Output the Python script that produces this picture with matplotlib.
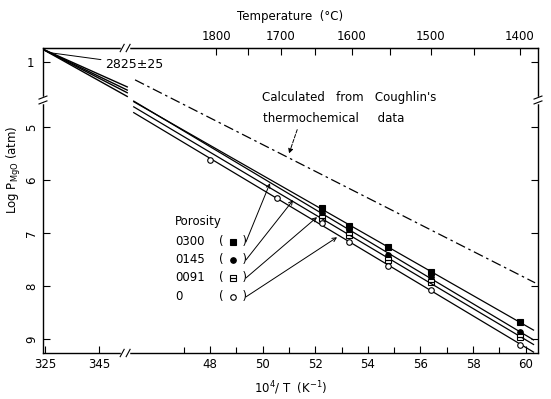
import numpy as np
import matplotlib.pyplot as plt

plt.rcParams['font.family'] = ['DejaVu Sans']
plt.rcParams['font.size'] = 8.5

# measurement columns, 10^4/T (K^-1)
inv_T = [5.226, 5.33, 5.478, 5.639, 5.98]
# log P_MgO, one list per porosity
logp_300 = [6.53, 6.87, 7.26, 7.74, 8.68]
logp_145 = [6.62, 6.94, 7.42, 7.83, 8.87]
logp_091 = [6.72, 7.04, 7.51, 7.92, 8.96]
logp_0 = [6.81, 7.17, 7.62, 8.08, 9.11]
# two extra points for zero porosity at higher temperature
inv_T_0_extra = [4.80, 5.055]
logp_0_extra = [5.62, 6.34]

porosity_labels = ["0300", "0145", "0091", "0"]
fit_x = [4.51, 6.03]

# near the melting point (upper left part of the broken axes)
melt_x = [3.235, 3.555]
melt_y = [[0.74, 1.47], [0.74, 1.53], [0.74, 1.58], [0.74, 1.65]]

# Coughlin's thermochemical data line
calc_x = [4.515, 6.036]
calc_y = [4.11, 7.94]

temp_ticks = [1800, 1700, 1600, 1500, 1400]
temp_minor = [1750, 1650, 1550, 1450]
x_hi_ticks = [3.25, 3.45]
x_hi_labels = ["325", "345"]
x_lo_ticks = [4.8, 5.0, 5.2, 5.4, 5.6, 5.8, 6.0]
x_lo_labels = ["48", "50", "52", "54", "56", "58", "60"]
y_lo_ticks = [5, 6, 7, 8, 9]

fig = plt.figure(figsize=(5.51, 3.99), dpi=100, facecolor="white")
rect = [0.078, 0.1153, 0.8984, 0.7644]
ax = fig.add_axes(rect)
ax_hi = fig.add_axes(rect, frameon=False)
ax_hi.patch.set_alpha(0)

ax.set_xlim(4.165, 6.047)
ax.set_ylim(9.264, 3.509)
ax_hi.set_xlim(3.243, 5.076)
ax_hi.set_ylim(6.49, 0.736)

# porosity series
series = [
    (inv_T, logp_300, dict(marker="s", mfc="black", mec="black")),
    (inv_T, logp_145, dict(marker="o", mfc="black", mec="black")),
    (inv_T, logp_091, dict(marker="s", mfc="white", mec="black", fillstyle="top")),
    (inv_T_0_extra + inv_T, logp_0_extra + logp_0, dict(marker="o", mfc="white", mec="black")),
]
xs = np.array(fit_x)
for x, y, style in series:
    k, b = np.polyfit(x, y, 1)
    ax.plot(xs, k * xs + b, color="black", lw=0.9)
    ax.plot(x, y, ls="none", ms=4, mew=0.8, **style)

ax.plot(calc_x, calc_y, color="black", lw=0.9, ls=(0, (8, 3, 2, 3)))

for ys in melt_y:
    ax_hi.plot(melt_x, ys, color="black", lw=1.0)

ax_hi.annotate("2825±25", xy=(3.262, 0.82), xytext=(3.473, 1.04),
               va="center", ha="left", fontsize=9,
               arrowprops=dict(arrowstyle="-", lw=0.7, color="black", shrinkA=1, shrinkB=0))

# ticks
ax.set_xticks(x_lo_ticks, x_lo_labels)
ax.set_xticks(np.arange(4.7, 6.01, 0.1), minor=True)
ax.set_yticks(y_lo_ticks, [str(v) for v in y_lo_ticks])
ax.tick_params(axis="both", which="both", direction="in", right=True, length=5, width=0.8)
ax.tick_params(axis="x", which="minor", length=4)
for lab in ax.get_yticklabels():
    lab.set_rotation(90)
    lab.set_va("center")

ax_hi.set_xticks(x_hi_ticks, x_hi_labels)
ax_hi.set_yticks([1], ["1"])
ax_hi.tick_params(axis="both", direction="in", right=True, length=5, width=0.8)
ax_hi.tick_params(axis="y", pad=6)

sec = ax.secondary_xaxis("top", functions=(lambda x: 1e4 / x - 273.15,
                                           lambda t: 1e4 / (t + 273.15)))
sec.set_xticks(temp_ticks)
sec.set_xticks(temp_minor, minor=True)
sec.tick_params(axis="x", which="both", direction="in", length=5, width=0.8)
sec.set_xlabel("Temperature  (°C)", labelpad=7)

for s in ax.spines.values():
    s.set_linewidth(1.0)

# break marks on the spines
bx, by = 0.166, 0.8295
for yy in (0, 1):
    ax.plot([bx - 0.006, bx + 0.006], [yy, yy], color="white", lw=2.5,
            transform=ax.transAxes, clip_on=False, zorder=5)
    for dx in (-0.006, 0.006):
        ax.plot([bx + dx - 0.004, bx + dx + 0.004], [yy - 0.012, yy + 0.012],
                color="black", lw=0.8, transform=ax.transAxes, clip_on=False, zorder=6)
for xx in (0, 1):
    ax.plot([xx, xx], [by - 0.008, by + 0.008], color="white", lw=2.5,
            transform=ax.transAxes, clip_on=False, zorder=5)
    for dy in (-0.008, 0.008):
        ax.plot([xx - 0.008, xx + 0.008], [by + dy - 0.005, by + dy + 0.005],
                color="black", lw=0.8, transform=ax.transAxes, clip_on=False, zorder=6)

# labels
ax.set_ylabel("Log P$_{\\mathrm{MgO}}$ (atm)")
ax.yaxis.set_label_coords(-0.04, 0.6)
ax.set_xlabel("10$^{4}$/ T  (K$^{-1}$)")
ax.xaxis.set_label_coords(0.5, -0.085)

ax.text(0.442, 0.839, "Calculated   from   Coughlin's", transform=ax.transAxes,
        ha="left", va="center")
ax.text(0.445, 0.770, "thermochemical     data", transform=ax.transAxes,
        ha="left", va="center")
ax.annotate("", xy=(5.097, 5.55), xytext=(5.135, 5.0),
            arrowprops=dict(arrowstyle="-|>", lw=0.7, ls="--", color="black",
                            mutation_scale=7))

# legend
ax.text(0.267, 0.43, "Porosity", transform=ax.transAxes, ha="left", va="center")
rows_y = [0.364, 0.305, 0.246, 0.184]
tips = [(5.028, 6.06), (5.116, 6.38), (5.207, 6.70), (5.283, 7.08)]
for (x, y, style), label, ry, tip in zip(series, porosity_labels, rows_y, tips):
    ax.text(0.267, ry, label, transform=ax.transAxes, ha="left", va="center")
    ax.text(0.384, ry, "(     )", transform=ax.transAxes, ha="center", va="center")
    ax.plot([0.384], [ry], ls="none", ms=4, mew=0.8, transform=ax.transAxes,
            clip_on=False, **style)
    ax.annotate("", xy=tip, xytext=(0.41, ry), textcoords="axes fraction",
                arrowprops=dict(arrowstyle="->", lw=0.7, color="black",
                                shrinkA=0, shrinkB=0, mutation_scale=7))

fig.savefig("out.png", dpi=100, facecolor="white")
